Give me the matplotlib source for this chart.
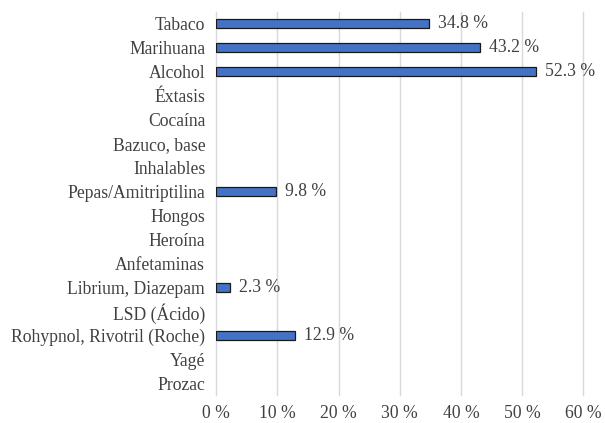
import matplotlib
matplotlib.use("Agg")
import matplotlib.pyplot as plt
from matplotlib.ticker import FuncFormatter

categories = ["Tabaco", "Marihuana", "Alcohol", "Éxtasis", "Cocaína", "Bazuco, base",
              "Inhalables", "Pepas/Amitriptilina", "Hongos", "Heroína", "Anfetaminas",
              "Librium, Diazepam", "LSD (Ácido)", "Rohypnol, Rivotril (Roche)", "Yagé", "Prozac"]
values = [34.8, 43.2, 52.3, 0, 0, 0, 0, 9.8, 0, 0, 0, 2.3, 0, 12.9, 0, 0]
x_ticks = [0, 10, 20, 30, 40, 50, 60]

plt.rcParams["font.family"] = ["Liberation Serif", "DejaVu Serif"]
text_color = "#404040"
fs = 12.7

fig = plt.figure(figsize=(6.05, 4.23), dpi=100)
ax = fig.add_axes([0.3575, 0.066, 0.6065, 0.9056])

pos = list(range(len(categories)))
# zero-valued bars get no outline so they stay invisible
widths = [0.9 if v > 0 else 0 for v in values]
ax.barh(pos, values, height=0.375, color="#4472C4", edgecolor="#1a1a1a",
        linewidth=widths, zorder=3)

# value labels only for non-zero bars
for p, v in zip(pos, values):
    if v > 0:
        ax.text(v + 1.4, p, f"{v:.1f} %", va="center", ha="left",
                fontsize=fs, color=text_color)

ax.set_ylim(len(categories) - 0.5, -0.5)
ax.set_xlim(0, 60)
ax.set_yticks(pos)
ax.set_yticklabels(categories)
ax.set_xticks(x_ticks)
ax.xaxis.set_major_formatter(FuncFormatter(lambda x, _: f"{x:.0f} %"))
ax.tick_params(axis="both", length=0, labelsize=fs, labelcolor=text_color)
ax.tick_params(axis="y", pad=8)
ax.tick_params(axis="x", pad=7)

ax.grid(axis="x", color="#d9d9d9", linewidth=1, zorder=0)
for gl in ax.get_xgridlines():
    gl.set_clip_on(False)
for s in ax.spines.values():
    s.set_visible(False)

fig.savefig("out.png", dpi=100)
